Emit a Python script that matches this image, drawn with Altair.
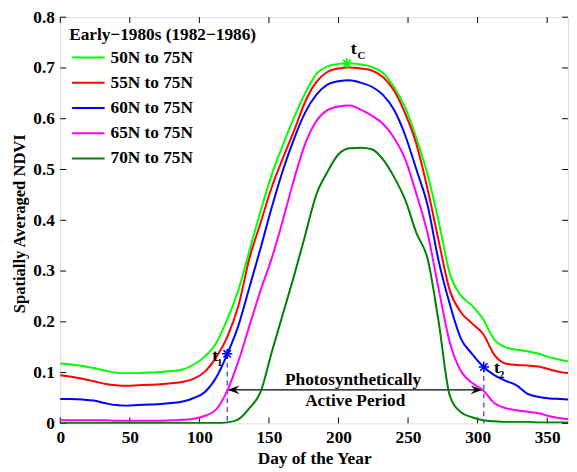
import altair as alt
import pandas as pd

# ---------------- data ----------------
days = [0, 8, 16, 24, 32, 40, 48, 56, 64, 72, 80, 88, 96, 104, 112, 120, 128, 136,
        144, 152, 160, 168, 176, 184, 192, 200, 208, 216, 224, 232, 240, 248, 256,
        264, 272, 280, 288, 296, 304, 312, 320, 328, 336, 344, 352, 360, 365]

ndvi_50 = [0.118, 0.116, 0.113, 0.109, 0.104, 0.100, 0.099, 0.099, 0.100, 0.101, 0.103,
           0.106, 0.116, 0.132, 0.158, 0.205, 0.262, 0.340, 0.418, 0.490, 0.548, 0.602,
           0.650, 0.688, 0.703, 0.708, 0.709, 0.707, 0.702, 0.690, 0.662, 0.622, 0.562,
           0.490, 0.398, 0.295, 0.252, 0.232, 0.205, 0.165, 0.150, 0.145, 0.142, 0.137,
           0.130, 0.125, 0.122]
ndvi_55 = [0.095, 0.092, 0.088, 0.083, 0.078, 0.075, 0.074, 0.075, 0.076, 0.077, 0.079,
           0.082, 0.088, 0.102, 0.130, 0.170, 0.231, 0.325, 0.395, 0.465, 0.522, 0.576,
           0.633, 0.672, 0.692, 0.699, 0.701, 0.699, 0.695, 0.682, 0.655, 0.610, 0.550,
           0.462, 0.360, 0.262, 0.219, 0.197, 0.176, 0.135, 0.118, 0.115, 0.114, 0.112,
           0.106, 0.101, 0.099]
ndvi_60 = [0.048, 0.048, 0.047, 0.045, 0.040, 0.036, 0.035, 0.036, 0.037, 0.038, 0.040,
           0.043, 0.050, 0.062, 0.090, 0.136, 0.192, 0.268, 0.345, 0.425, 0.498, 0.560,
           0.612, 0.647, 0.667, 0.674, 0.676, 0.671, 0.663, 0.647, 0.617, 0.567, 0.500,
           0.430, 0.320, 0.235, 0.167, 0.137, 0.112, 0.095, 0.084, 0.075, 0.058, 0.052,
           0.049, 0.048, 0.047]
ndvi_65 = [0.006, 0.006, 0.006, 0.006, 0.006, 0.005, 0.005, 0.005, 0.005, 0.005, 0.006,
           0.007, 0.009, 0.015, 0.027, 0.064, 0.122, 0.192, 0.262, 0.325, 0.400, 0.480,
           0.550, 0.595, 0.617, 0.624, 0.626, 0.618, 0.606, 0.590, 0.562, 0.520, 0.452,
           0.375, 0.265, 0.160, 0.103, 0.080, 0.065, 0.040, 0.030, 0.026, 0.023, 0.020,
           0.014, 0.010, 0.008]
ndvi_70 = [0.001, 0.001, 0.001, 0.001, 0.001, 0.001, 0.001, 0.001, 0.001, 0.001, 0.001,
           0.001, 0.001, 0.001, 0.001, 0.002, 0.008, 0.030, 0.062, 0.140, 0.215, 0.290,
           0.370, 0.450, 0.495, 0.530, 0.542, 0.543, 0.540, 0.520, 0.485, 0.440, 0.375,
           0.325, 0.200, 0.055, 0.022, 0.012, 0.006, 0.004, 0.003, 0.003, 0.003, 0.002,
           0.002, 0.002, 0.002]

series_names = ["50N to 75N", "55N to 75N", "60N to 75N", "65N to 75N", "70N to 75N"]
series_colors = ["#00ff00", "#ff0000", "#0000ff", "#ff00ff", "#008000"]
series_values = [ndvi_50, ndvi_55, ndvi_60, ndvi_65, ndvi_70]

# annotations
star_days = [120, 304.5, 206]
star_vals = [0.137, 0.111, 0.709]
star_colors = ["#0000ff", "#0000ff", "#00ff00"]

dash_days = [120, 304.5]
dash_tops = [0.137, 0.111]

arrow_y = 0.066
arrow_start = 120.3
arrow_end = 303.5

t_days = [111.3, 314.0, 211.0]
t_vals = [0.132, 0.109, 0.738]
sub_labels = ["1", "2", "C"]
sub_days = [114.6, 317.3, 216.5]
sub_vals = [0.119, 0.095, 0.724]

period_texts = ["Photosynthetically", "Active Period"]
period_days = [210.5, 212.0]
period_vals = [0.0854, 0.0447]

x_ticks = [0, 50, 100, 150, 200, 250, 300, 350]
y_ticks = [0, 0.1, 0.2, 0.3, 0.4, 0.5, 0.6, 0.7, 0.8]

# ---------------- build ----------------
FONT = "Liberation Serif"
FS = 17.5
W, H = 515, 412

rows = []
for name, vals in zip(series_names, series_values):
    for d, v in zip(days, vals):
        rows.append({"day": d, "ndvi": v, "series": name})
df = pd.DataFrame(rows)

xs = alt.Scale(domain=[0, 365], nice=False, zero=False)
ys = alt.Scale(domain=[0, 0.8], nice=False, zero=False)

xaxis = alt.Axis(values=x_ticks, title="Day of the Year", tickSize=0, domain=False,
                 grid=False, labelFont=FONT, labelFontWeight="bold", labelFontSize=FS,
                 labelColor="black", labelPadding=5, titleFont=FONT, titleFontWeight="bold",
                 titleFontSize=FS, titleColor="black", titlePadding=4, labelFlush=False)
yaxis = alt.Axis(values=y_ticks, title="Spatially Averaged NDVI", tickSize=0, domain=False,
                 grid=False, labelFont=FONT, labelFontWeight="bold", labelFontSize=FS,
                 labelColor="black", labelPadding=6, titleFont=FONT, titleFontWeight="bold",
                 titleFontSize=16.8, titleColor="black", titlePadding=4, titleY=209,
                 labelExpr="datum.value == 0 ? '0' : format(datum.value, '.1f')",
                 labelFlush=False)

X = alt.X("day:Q", scale=xs, axis=xaxis)
Y = alt.Y("ndvi:Q", scale=ys, axis=yaxis)

lines = alt.Chart(df).mark_line(strokeWidth=2, interpolate="monotone").encode(
    x=X, y=Y,
    color=alt.Color("series:N", scale=alt.Scale(domain=series_names, range=series_colors),
                    sort=series_names,
                    legend=alt.Legend(title="Early\u22121980s (1982\u22121986)", orient="none",
                                      legendX=9, legendY=9, titleLimit=400, labelLimit=300,
                                      symbolType="M-1.32,0L1.32,0", symbolSize=625,
                                      symbolStrokeWidth=2, padding=0, rowPadding=3.6,
                                      symbolOffset=6, labelOffset=9,
                                      labelFont=FONT, labelFontSize=FS, labelFontWeight="bold",
                                      labelColor="black", titleFont=FONT, titleFontSize=FS,
                                      titleFontWeight="bold", titleColor="black",
                                      titlePadding=1)),
    order=alt.Order("day:Q"),
)

dash_df = pd.DataFrame({"day": dash_days, "ndvi": dash_tops, "ndvi0": [0] * len(dash_days)})
dashes = alt.Chart(dash_df).mark_rule(color="#0000ff", strokeWidth=1, strokeDash=[5, 4]).encode(
    x=X, y=Y, y2="ndvi0:Q")

arrow_df = pd.DataFrame({"day": [arrow_start], "day2": [arrow_end], "ndvi": [arrow_y]})
arrow = alt.Chart(arrow_df).mark_rule(color="black", strokeWidth=1.2).encode(
    x=X, x2="day2:Q", y=Y)

head_df = pd.DataFrame({"day": [arrow_start, arrow_end], "ndvi": [arrow_y, arrow_y],
                        "shp": ["M0,0L2,-0.72L1.3,0L2,0.72Z", "M0,0L-2,-0.72L-1.3,0L-2,0.72Z"]})
heads = alt.Chart(head_df).mark_point(filled=True, color="black", size=144, opacity=1).encode(
    x=X, y=Y, shape=alt.Shape("shp:N", scale=None))

star_df = pd.DataFrame({"day": star_days, "ndvi": star_vals, "col": star_colors})
stars = alt.Chart(star_df).mark_point(
    shape="M-1,0L1,0M0,-1L0,1M-0.72,-0.72L0.72,0.72M-0.72,0.72L0.72,-0.72",
    filled=False, size=110, strokeWidth=1.6, opacity=1).encode(
    x=X, y=Y, stroke=alt.Stroke("col:N", scale=None))

t_df = pd.DataFrame({"day": t_days, "ndvi": t_vals})
t_text = alt.Chart(t_df).mark_text(text="t", font=FONT, fontSize=18, fontWeight="bold",
                                   color="black", align="center", baseline="middle").encode(x=X, y=Y)

sub_df = pd.DataFrame({"day": sub_days, "ndvi": sub_vals, "lab": sub_labels})
sub_text = alt.Chart(sub_df).mark_text(font=FONT, fontSize=11, fontWeight="bold", color="black",
                                       align="center", baseline="middle").encode(
    x=X, y=Y, text="lab:N")

per_df = pd.DataFrame({"day": period_days, "ndvi": period_vals, "lab": period_texts})
per_text = alt.Chart(per_df).mark_text(font=FONT, fontSize=FS, fontWeight="bold", color="black",
                                       align="center", baseline="middle").encode(
    x=X, y=Y, text="lab:N")

xt_df = pd.DataFrame({"day": x_ticks})
yt_df = pd.DataFrame({"ndvi": y_ticks})
tick_style = dict(color="black", strokeWidth=1)
xt_bot = alt.Chart(xt_df).mark_rule(**tick_style).encode(x=X, y=alt.value(H), y2=alt.value(H - 6))
xt_top = alt.Chart(xt_df).mark_rule(**tick_style).encode(x=X, y=alt.value(0), y2=alt.value(6))
yt_left = alt.Chart(yt_df).mark_rule(**tick_style).encode(y=Y, x=alt.value(0), x2=alt.value(6))
yt_right = alt.Chart(yt_df).mark_rule(**tick_style).encode(y=Y, x=alt.value(W), x2=alt.value(W - 6))

chart = alt.layer(
    xt_bot, xt_top, yt_left, yt_right,
    dashes, arrow, heads, lines, stars, t_text, sub_text, per_text,
).properties(
    width=W, height=H,
    autosize=alt.AutoSizeParams(type="none"),
    padding={"left": 53, "top": 6, "right": 1, "bottom": 46},
).configure_view(
    stroke="black", strokeWidth=1
).configure(
    background="white"
)

chart.save("out.html", embed_options={"renderer": "svg", "actions": False})
